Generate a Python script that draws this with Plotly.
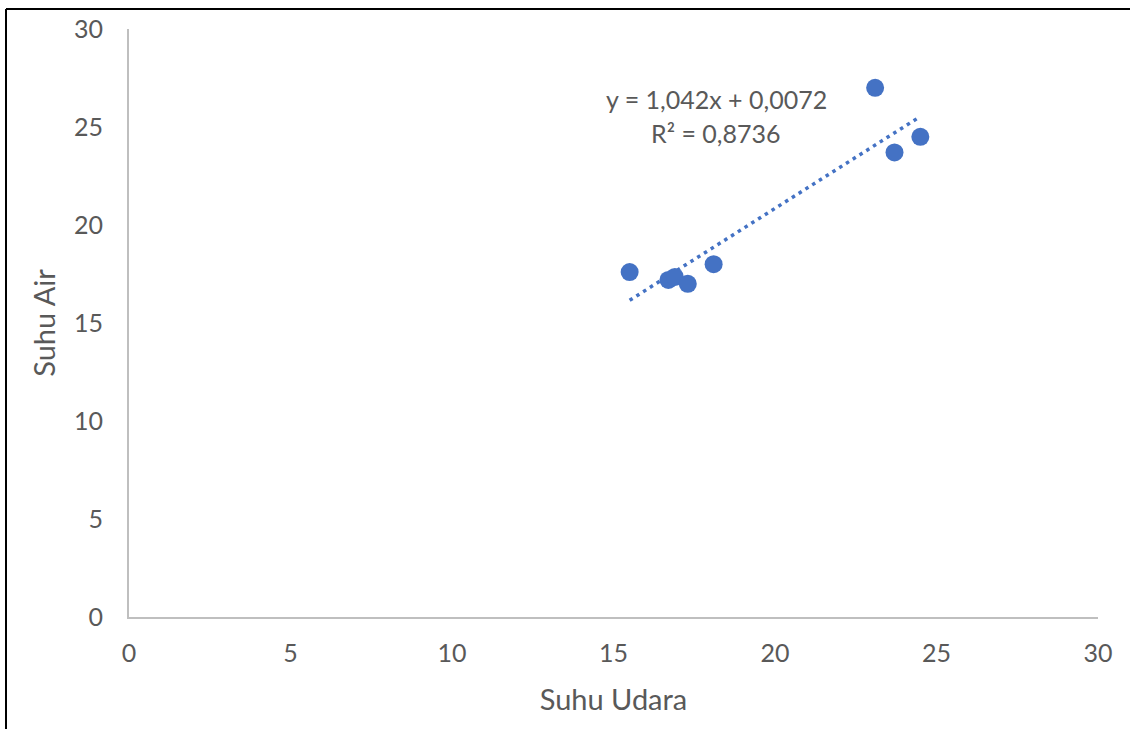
import plotly.graph_objects as go

suhu_udara = [15.5, 16.7, 16.9, 17.3, 18.1, 23.1, 23.7, 24.5]
suhu_air = [17.6, 17.2, 17.35, 17.0, 18.0, 27.0, 23.7, 24.5]
slope = 1.042
intercept = 0.0072
eq_line1 = "y = 1,042x + 0,0072"
eq_line2 = "R² = 0,8736"
tick_vals = [0, 5, 10, 15, 20, 25, 30]

blue = "#4472C4"
grey_text = "#595959"
font_family = "Lato, Open Sans, sans-serif"

x_lo, x_hi = min(suhu_udara), max(suhu_udara)
trend_x = [x_lo, x_hi]
trend_y = [slope * v + intercept for v in trend_x]

fig = go.Figure()
fig.add_trace(go.Scatter(x=trend_x, y=trend_y, mode="lines",
                         line=dict(color=blue, width=3.5, dash="3.5px,4.5px"),
                         showlegend=False, hoverinfo="skip"))
fig.add_trace(go.Scatter(x=suhu_udara, y=suhu_air, mode="markers",
                         marker=dict(color=blue, size=18),
                         showlegend=False))

W, H = 1130, 729
L, R, T, B = 129, 32, 29, 112
pw, ph = W - L - R, H - T - B

def px_to_paper_x(px):
    return (px - L) / pw

def px_to_paper_y(py):
    return (H - B - py) / ph

fig.update_layout(
    width=W, height=H,
    margin=dict(l=L, r=R, t=T, b=B),
    paper_bgcolor="white", plot_bgcolor="white",
    font=dict(family=font_family, color=grey_text, size=25),
    xaxis=dict(range=[0, 30], tickvals=tick_vals, showgrid=False, zeroline=False,
               showline=True, linecolor="#BFBFBF", linewidth=2, ticks="",
               ticklabelstandoff=13,
               tickfont=dict(size=25, color=grey_text),
               title=dict(text="Suhu Udara", font=dict(size=29, color=grey_text), standoff=24)),
    yaxis=dict(range=[0, 30], tickvals=tick_vals, showgrid=False, zeroline=False,
               showline=True, linecolor="#BFBFBF", linewidth=2, ticks="",
               ticklabelstandoff=19,
               tickfont=dict(size=25, color=grey_text),
               title=dict(text="Suhu Air", font=dict(size=29, color=grey_text), standoff=10)),
    shapes=[
        dict(type="line", xref="paper", yref="paper",
             x0=px_to_paper_x(6), x1=px_to_paper_x(1130), y0=px_to_paper_y(9), y1=px_to_paper_y(9),
             line=dict(color="black", width=2)),
        dict(type="line", xref="paper", yref="paper",
             x0=px_to_paper_x(6), x1=px_to_paper_x(6), y0=px_to_paper_y(9), y1=px_to_paper_y(729),
             line=dict(color="black", width=2)),
    ],
    annotations=[
        dict(x=px_to_paper_x(716), y=px_to_paper_y(99), xref="paper", yref="paper",
             xanchor="center", yanchor="middle",
             text=eq_line1, showarrow=False, font=dict(size=25, color=grey_text)),
        dict(x=px_to_paper_x(716), y=px_to_paper_y(133), xref="paper", yref="paper",
             xanchor="center", yanchor="middle",
             text=eq_line2, showarrow=False, font=dict(size=25, color=grey_text)),
    ],
)

fig.write_html("out.html")
